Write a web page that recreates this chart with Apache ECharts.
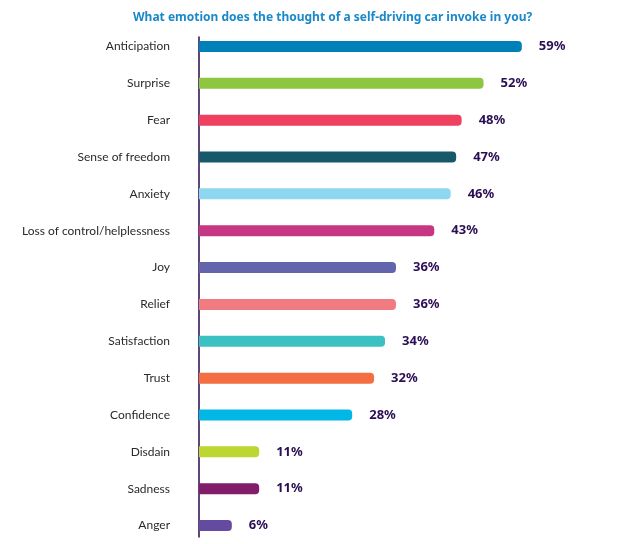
<!DOCTYPE html>
<html>
<head>
<meta charset="utf-8">
<script src="https://cdn.jsdelivr.net/npm/echarts@6/dist/echarts.min.js"></script>
<style>
html,body{margin:0;padding:0;background:#fff;}
#chart{width:618px;height:544px;}
</style>
</head>
<body>
<div id="chart"></div>
<script>
const titleText = 'What emotion does the thought of a self-driving car invoke in you?';
const categories = ['Anticipation','Surprise','Fear','Sense of freedom','Anxiety','Loss of control/helplessness','Joy','Relief','Satisfaction','Trust','Confidence','Disdain','Sadness','Anger'];
const values = [59,52,48,47,46,43,36,36,34,32,28,11,11,6];
const colors = ['#0080B8','#8DC63F','#EF4060','#17596A','#8DD7F0','#C73682','#6264AC','#F07B80','#3CC1C3','#F36E40','#00B7E5','#BCD632','#821D6A','#654BA0'];

const chart = echarts.init(document.getElementById('chart'), null, {renderer:'canvas'});
const font = '"Noto Sans", "Open Sans", sans-serif';
chart.setOption({
  animation:false,
  backgroundColor:'#fff',
  title:{
    text:titleText, left:128, top:7,
    textStyle:{color:'#1A88C9', fontSize:12, fontWeight:'bold', fontFamily:font}
  },
  grid:[
    {left:199, right:36, top:28, height:521, containLabel:false},
    {left:199, right:36, top:37, height:500, containLabel:false}
  ],
  xAxis:[
    {type:'value', min:0, max:70, show:false, gridIndex:0},
    {type:'value', min:0, max:70, show:false, gridIndex:1}
  ],
  yAxis:[
    {type:'category', gridIndex:0, data:categories, inverse:true,
     axisLine:{show:false}, axisTick:{show:false}, splitLine:{show:false},
     axisLabel:{color:'#2a2a2a', fontSize:12, fontFamily:'Lato, "Noto Sans", sans-serif', margin:29}},
    {type:'category', gridIndex:1, data:categories, inverse:true,
     axisLine:{show:true, lineStyle:{color:'#2B0A4B', width:1.5}},
     axisTick:{show:false}, axisLabel:{show:false}, splitLine:{show:false}}
  ],
  series:[{
    type:'bar', xAxisIndex:0, yAxisIndex:0,
    data: values.map((v,i)=>({value:v, itemStyle:{color:colors[i]}})),
    barWidth:11,
    itemStyle:{borderRadius:[0,4,4,0]},
    label:{show:true, position:'right', distance:17, formatter:'{c}%',
      color:'#2B0F55', fontSize:13, fontWeight:'bold', fontFamily:font}
  }]
});
</script>
</body>
</html>
